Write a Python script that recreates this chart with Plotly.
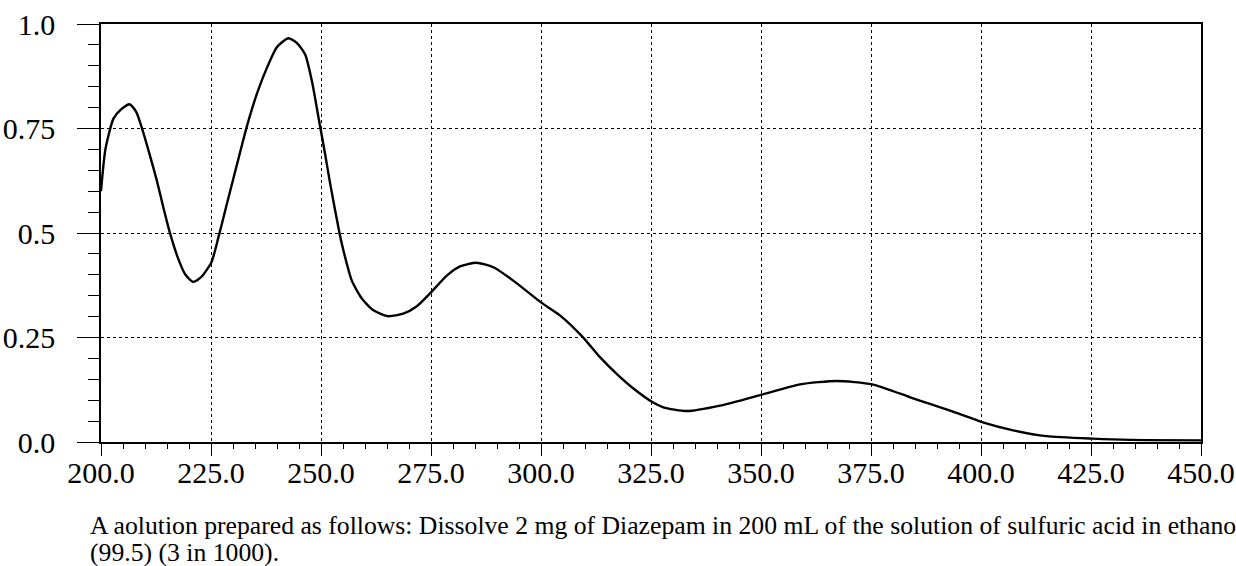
import plotly.graph_objects as go

# Absorbance spectrum
wavelength = [200.0, 201.0, 202.8, 204.5, 206.5, 208.0, 209.3, 211.0, 212.7, 214.2,
              215.7, 217.5, 219.2, 221.0, 222.8, 225.1, 226.7, 228.5, 230.2, 231.9,
              233.2, 235.5, 237.7, 240.0, 242.6, 244.5, 246.4, 248.0, 249.5, 251.0,
              252.1, 254.2, 255.1, 257.0, 259.3, 261.9, 265.3, 268.7, 271.7, 275.0,
              278.6, 281.6, 285.3, 289.2, 293.7, 300.0, 304.3, 309.5, 313.4, 317.5,
              321.0, 325.4, 327.8, 333.1, 340.7, 350.4, 358.9, 367.2, 375.3, 383.9,
              388.4, 393.0, 400.4, 407.3, 414.9, 425.4, 433.9, 450.0]
absorbance = [0.600, 0.700, 0.773, 0.795, 0.808, 0.790, 0.751, 0.690, 0.625, 0.560,
              0.499, 0.440, 0.400, 0.383, 0.395, 0.430, 0.490, 0.565, 0.635, 0.705,
              0.757, 0.835, 0.895, 0.945, 0.966, 0.955, 0.927, 0.860, 0.772, 0.685,
              0.617, 0.500, 0.458, 0.386, 0.343, 0.315, 0.301, 0.307, 0.324, 0.358,
              0.398, 0.420, 0.429, 0.418, 0.386, 0.334, 0.303, 0.251, 0.203, 0.160,
              0.128, 0.095, 0.083, 0.074, 0.087, 0.114, 0.138, 0.146, 0.138, 0.107,
              0.091, 0.075, 0.047, 0.028, 0.014, 0.008, 0.005, 0.004]

x_tickvals = [200, 225, 250, 275, 300, 325, 350, 375, 400, 425, 450]
x_ticktext = ["200.0", "225.0", "250.0", "275.0", "300.0", "325.0", "350.0",
              "375.0", "400.0", "425.0", "450.0"]
y_tickvals = [0.0, 0.25, 0.5, 0.75, 1.0]
y_ticktext = ["0.0", "0.25", "0.5", "0.75", "1.0"]

caption_line1 = ("A aolution prepared as follows: Dissolve 2 mg of Diazepam in 200 mL of the "
                 "solution of sulfuric acid in ethanol")
caption_line2 = "(99.5) (3 in 1000)."

FONT = "Liberation Serif, Times New Roman, serif"

fig = go.Figure()
fig.add_trace(go.Scatter(
    x=wavelength, y=absorbance, mode="lines",
    line=dict(color="black", width=2.4, shape="spline", smoothing=0.6),
    hoverinfo="skip", showlegend=False,
))

axis_common = dict(
    showline=True, linecolor="black", linewidth=1.5, mirror=True,
    ticks="outside", tickcolor="black", tickwidth=1.2,
    showgrid=True, gridcolor="black", gridwidth=1, griddash="dot",
    zeroline=False, automargin=False, ticklabeloverflow="allow",
    tickfont=dict(family=FONT, size=30, color="black"),
)

fig.update_xaxes(
    **axis_common,
    range=[200, 450],
    tickmode="array", tickvals=x_tickvals, ticktext=x_ticktext,
    ticklen=12,
    ticklabelstandoff=-9,
    minor=dict(tickmode="linear", tick0=200, dtick=5, ticks="outside",
               ticklen=5, tickcolor="black", tickwidth=1.2, showgrid=False),
)
fig.update_yaxes(
    **axis_common,
    range=[0, 1.0],
    tickmode="array", tickvals=y_tickvals, ticktext=y_ticktext,
    ticklen=22,
    ticklabelstandoff=16,
    minor=dict(tickmode="linear", tick0=0, dtick=0.05, ticks="outside",
               ticklen=11, tickcolor="black", tickwidth=1.2, showgrid=False),
)

fig.add_annotation(
    text=caption_line1, xref="paper", yref="paper",
    x=-0.012, y=-0.2005, xanchor="left", yanchor="middle", align="left",
    showarrow=False,
    font=dict(family=FONT, size=25.7, color="black"),
)
fig.add_annotation(
    text=caption_line2, xref="paper", yref="paper",
    x=-0.012, y=-0.265, xanchor="left", yanchor="middle", align="left",
    showarrow=False,
    font=dict(family=FONT, size=25.7, color="black"),
)

fig.update_layout(
    width=1236, height=566,
    margin=dict(l=101, r=35, t=24, b=124),
    paper_bgcolor="white", plot_bgcolor="white",
)

# remove the default 8px page margin so the figure sits at the window's corner
fig.write_html("out.html", config={"displayModeBar": False},
               post_script="document.body.style.margin='0px';")
